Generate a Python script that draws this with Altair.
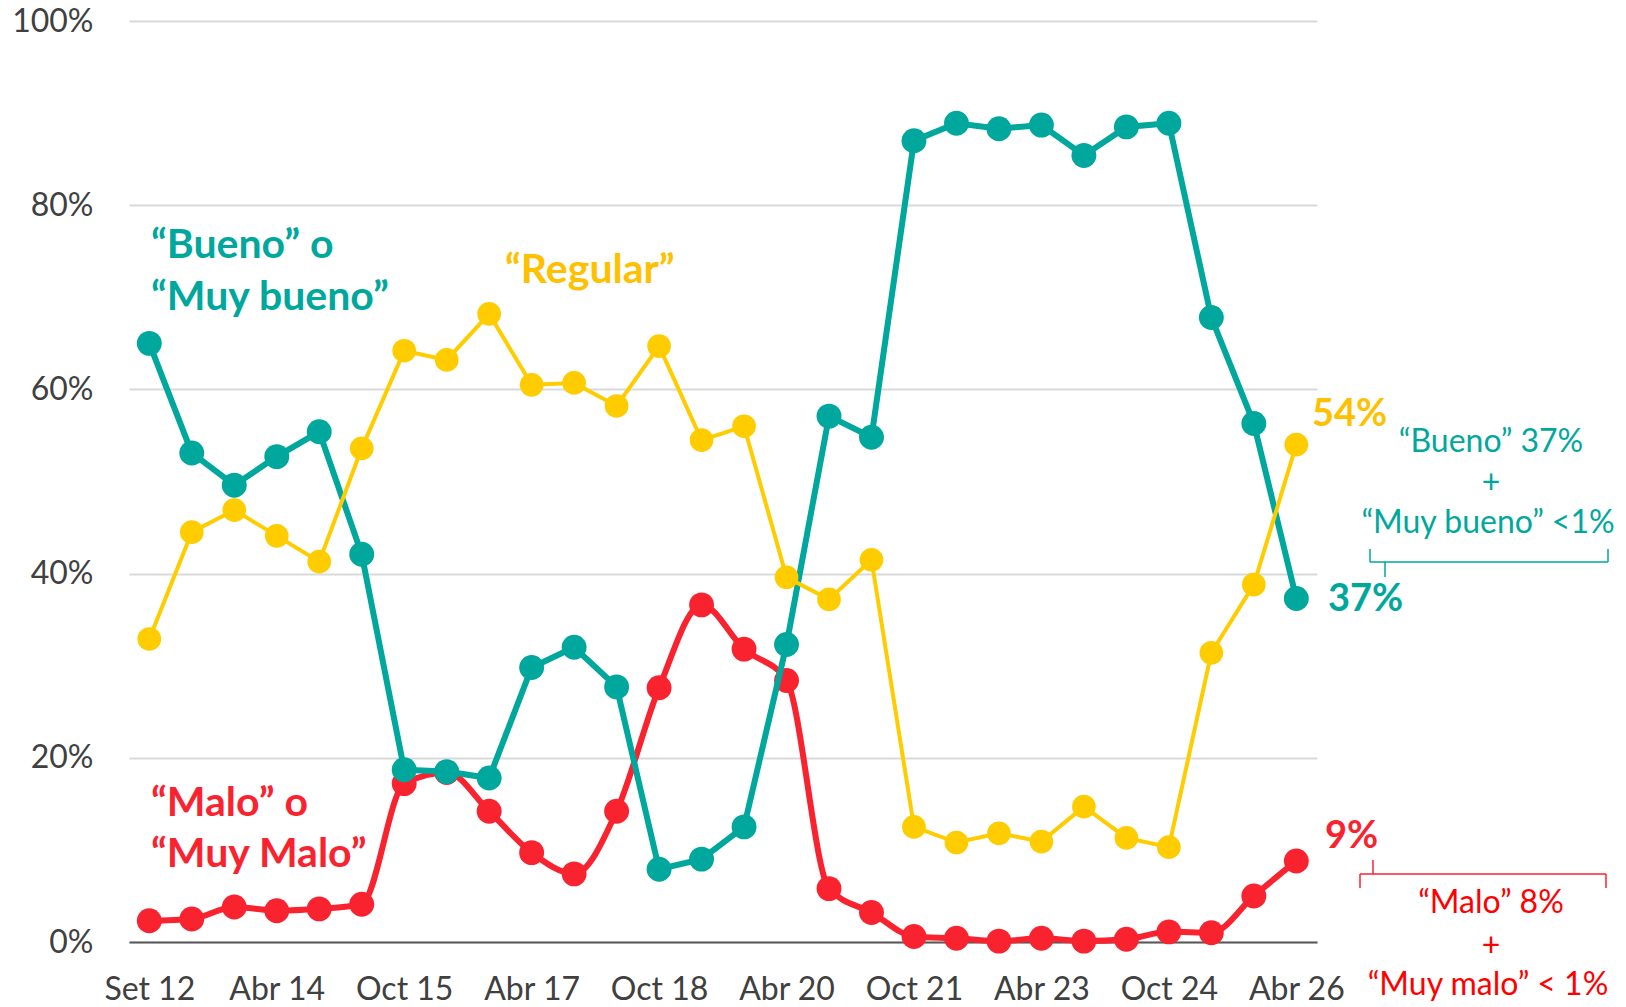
import altair as alt
import pandas as pd

# ---- data ----
periods = ["Set 12", "Abr 13", "Oct 13", "Abr 14", "Oct 14", "Abr 15", "Oct 15",
           "Abr 16", "Oct 16", "Abr 17", "Oct 17", "Abr 18", "Oct 18", "Abr 19",
           "Oct 19", "Abr 20", "Oct 20", "Abr 21", "Oct 21", "Abr 22", "Oct 22",
           "Abr 23", "Oct 23", "Abr 24", "Oct 24", "Abr 25", "Oct 25", "Abr 26"]
tick_labels = ["Set 12", "Abr 14", "Oct 15", "Abr 17", "Oct 18",
               "Abr 20", "Oct 21", "Abr 23", "Oct 24", "Abr 26"]
bueno = [65.0, 53.1, 49.6, 52.7, 55.4, 42.1, 18.7, 18.5, 17.8, 29.8, 32.0, 27.7,
         7.9, 9.0, 12.5, 32.3, 57.1, 54.8, 87.0, 88.9, 88.3, 88.7, 85.4, 88.5,
         88.9, 67.8, 56.3, 37.3]
regular = [32.9, 44.5, 46.9, 44.1, 41.3, 53.6, 64.2, 63.2, 68.2, 60.5, 60.7, 58.2,
           64.7, 54.5, 56.0, 39.6, 37.2, 41.5, 12.5, 10.8, 11.8, 10.9, 14.7, 11.3,
           10.3, 31.4, 38.8, 54.0]
malo = [2.3, 2.5, 3.8, 3.4, 3.6, 4.1, 17.2, 18.4, 14.2, 9.7, 7.4, 14.2,
        27.6, 36.6, 31.8, 28.4, 5.8, 3.2, 0.6, 0.4, 0.1, 0.4, 0.1, 0.3,
        1.1, 1.0, 5.0, 8.8]
y_ticks = [0, 20, 40, 60, 80, 100]

TEAL = "#00A79D"
YELLOW = "#FFCC00"
YELLOW_TXT = "#FFC000"
RED = "#F9232F"
RED_TXT = "#FF0000"
FONT = "Lato"


def frame(vals):
    return pd.DataFrame({"idx": list(range(len(periods))), "period": periods, "value": vals})


label_js = "[" + ",".join("'" + t + "'" for t in tick_labels) + "]"

x_enc = alt.X(
    "idx:Q",
    scale=alt.Scale(domain=[-0.478, 27.487], nice=False, zero=False),
    axis=alt.Axis(values=list(range(0, 28, 3)), labelExpr=label_js + "[round(datum.value/3)]",
                  title=None, grid=False, ticks=False, domainColor="#595959", domainWidth=2,
                  labelFont=FONT, labelFontSize=32, labelColor="#404040", labelPadding=32),
)
y_enc = alt.Y(
    "value:Q",
    scale=alt.Scale(domain=[0, 100], nice=False),
    axis=alt.Axis(values=y_ticks, labelExpr="datum.value + '%'", title=None, domain=False,
                  ticks=False, gridColor="#D9D9D9", gridWidth=2, labelFont=FONT,
                  labelFontSize=32, labelColor="#404040", labelPadding=36),
)


def series(vals, color, width, size, interp="linear"):
    base = alt.Chart(frame(vals)).encode(x=x_enc, y=y_enc)
    line = base.mark_line(color=color, strokeWidth=width, interpolate=interp)
    pts = base.mark_point(filled=True, opacity=1, color=color, size=size)
    return line + pts


red_layer = series(malo, RED, 6, 620, "monotone")
teal_layer = series(bueno, TEAL, 6, 620)
yellow_layer = series(regular, YELLOW, 4, 560)

# ---- annotations (pixel positions in plot coordinates) ----
bold_notes = pd.DataFrame([
    {"text": "\u201cBueno\u201d o", "px": 22, "py": 225, "color": TEAL, "size": 41},
    {"text": "\u201cMuy bueno\u201d", "px": 22, "py": 277, "color": TEAL, "size": 41},
    {"text": "\u201cRegular\u201d", "px": 376, "py": 250, "color": YELLOW_TXT, "size": 41},
    {"text": "\u201cMalo\u201d o", "px": 22, "py": 783, "color": RED, "size": 41},
    {"text": "\u201cMuy Malo\u201d", "px": 22, "py": 834, "color": RED, "size": 41},
    {"text": "54%", "px": 1183, "py": 394, "color": YELLOW_TXT, "size": 38},
    {"text": "37%", "px": 1199, "py": 579, "color": TEAL, "size": 38},
    {"text": "9%", "px": 1196, "py": 816, "color": RED, "size": 38},
])
reg_notes = pd.DataFrame([
    {"text": "\u201cBueno\u201d 37%", "px": 1362, "py": 421, "color": TEAL},
    {"text": "+", "px": 1362, "py": 462, "color": TEAL},
    {"text": "\u201cMuy bueno\u201d <1%", "px": 1359, "py": 502, "color": TEAL},
    {"text": "\u201cMalo\u201d 8%", "px": 1362, "py": 882, "color": RED_TXT},
    {"text": "+", "px": 1362, "py": 925, "color": RED_TXT},
    {"text": "\u201cMuy malo\u201d < 1%", "px": 1359, "py": 964, "color": RED_TXT},
])
brace_segs = pd.DataFrame([
    {"x": 1241, "x2": 1479, "y": 541, "y2": 541, "color": TEAL},
    {"x": 1241, "x2": 1241, "y": 528, "y2": 541, "color": TEAL},
    {"x": 1479, "x2": 1479, "y": 528, "y2": 541, "color": TEAL},
    {"x": 1256, "x2": 1256, "y": 541, "y2": 556, "color": TEAL},
    {"x": 1231, "x2": 1477, "y": 853, "y2": 853, "color": RED},
    {"x": 1231, "x2": 1231, "y": 853, "y2": 867, "color": RED},
    {"x": 1477, "x2": 1477, "y": 853, "y2": 867, "color": RED},
    {"x": 1244, "x2": 1244, "y": 839, "y2": 853, "color": RED},
])

bold_layer = alt.Chart(bold_notes).mark_text(
    font=FONT, fontWeight="bold", align="left", baseline="middle"
).encode(
    x=alt.X("px:Q", scale=None), y=alt.Y("py:Q", scale=None), text="text:N",
    color=alt.Color("color:N", scale=None), size=alt.Size("size:Q", scale=None),
)
reg_layer = alt.Chart(reg_notes).mark_text(
    font=FONT, fontSize=32, align="center", baseline="middle"
).encode(
    x=alt.X("px:Q", scale=None), y=alt.Y("py:Q", scale=None), text="text:N",
    color=alt.Color("color:N", scale=None),
)
brace_layer = alt.Chart(brace_segs).mark_rule(strokeWidth=1.5).encode(
    x=alt.X("x:Q", scale=None), x2="x2:Q", y=alt.Y("y:Q", scale=None), y2="y2:Q",
    color=alt.Color("color:N", scale=None),
)

chart = alt.layer(
    red_layer, teal_layer, yellow_layer, bold_layer, reg_layer, brace_layer
).properties(
    width=1188, height=921,
    autosize=alt.AutoSizeParams(type="none"),
    padding={"left": 121, "top": 13, "right": 300, "bottom": 65},
).configure_view(stroke=None)

chart.save("out.html", embed_options={"renderer": "svg", "actions": False})
